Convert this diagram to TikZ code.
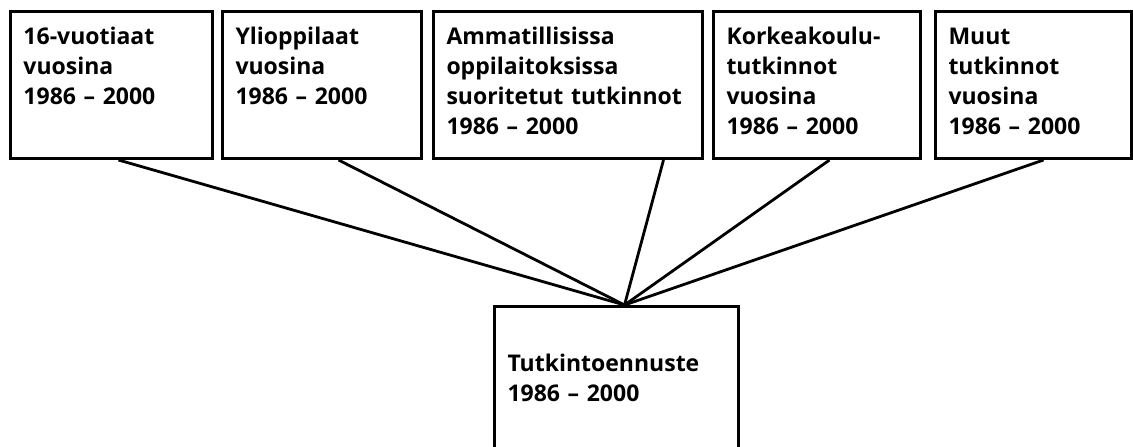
\documentclass[tikz,border=0pt]{standalone}
\usepackage{fontspec}
\setmainfont{Open Sans}
\tikzstyle{srcbox}=[draw, line width=1.5pt, anchor=north west, inner xsep=6.5pt, inner ysep=0pt, align=left, text height=16.5pt, text depth=57pt, font=\bfseries\fontsize{11.5pt}{15pt}\selectfont]
\tikzstyle{link}=[line width=1.4pt]
\newcommand{\srcbox}[1]{\node[srcbox, text width=#1]}

\begin{document}
\begin{tikzpicture}[x=0.5pt, y=-0.5pt]
	\useasboundingbox (0,0) rectangle (1133,446);
	\srcbox{88pt} (nuoret) at (9,10) {16-vuotiaat\\vuosina\\1986 -- 2000};
	\srcbox{86.5pt} (ylioppilaat) at (221,10) {Ylioppilaat\\vuosina\\1986 -- 2000};
	\srcbox{121.5pt} (ammatti) at (432,10) {Ammatillisissa\\oppilaitoksissa\\suoritetut tutkinnot\\1986 -- 2000};
	\srcbox{90.5pt} (korkea) at (712,10) {Korkeakoulu-\\tutkinnot\\vuosina\\1986 -- 2000};
	\srcbox{85pt} (muut) at (934,10) {Muut\\tutkinnot\\vuosina\\1986 -- 2000};
	\node[srcbox, text width=109pt, text height=32.5pt, text depth=40pt] (ennuste) at (493,305) {Tutkintoennuste\\1986 -- 2000};
	\coordinate (meet) at ([xshift=4pt]ennuste.north);
	\draw[link] ([xshift=3.5pt]nuoret.south) -- (meet);
	\draw[link] ([xshift=8.25pt]ylioppilaat.south) -- (meet);
	\draw[link] ([xshift=47.75pt]ammatti.south) -- (meet);
	\draw[link] ([xshift=6.25pt]korkea.south) -- (meet);
	\draw[link] ([xshift=5pt]muut.south) -- (meet);
\end{tikzpicture}
\end{document}
